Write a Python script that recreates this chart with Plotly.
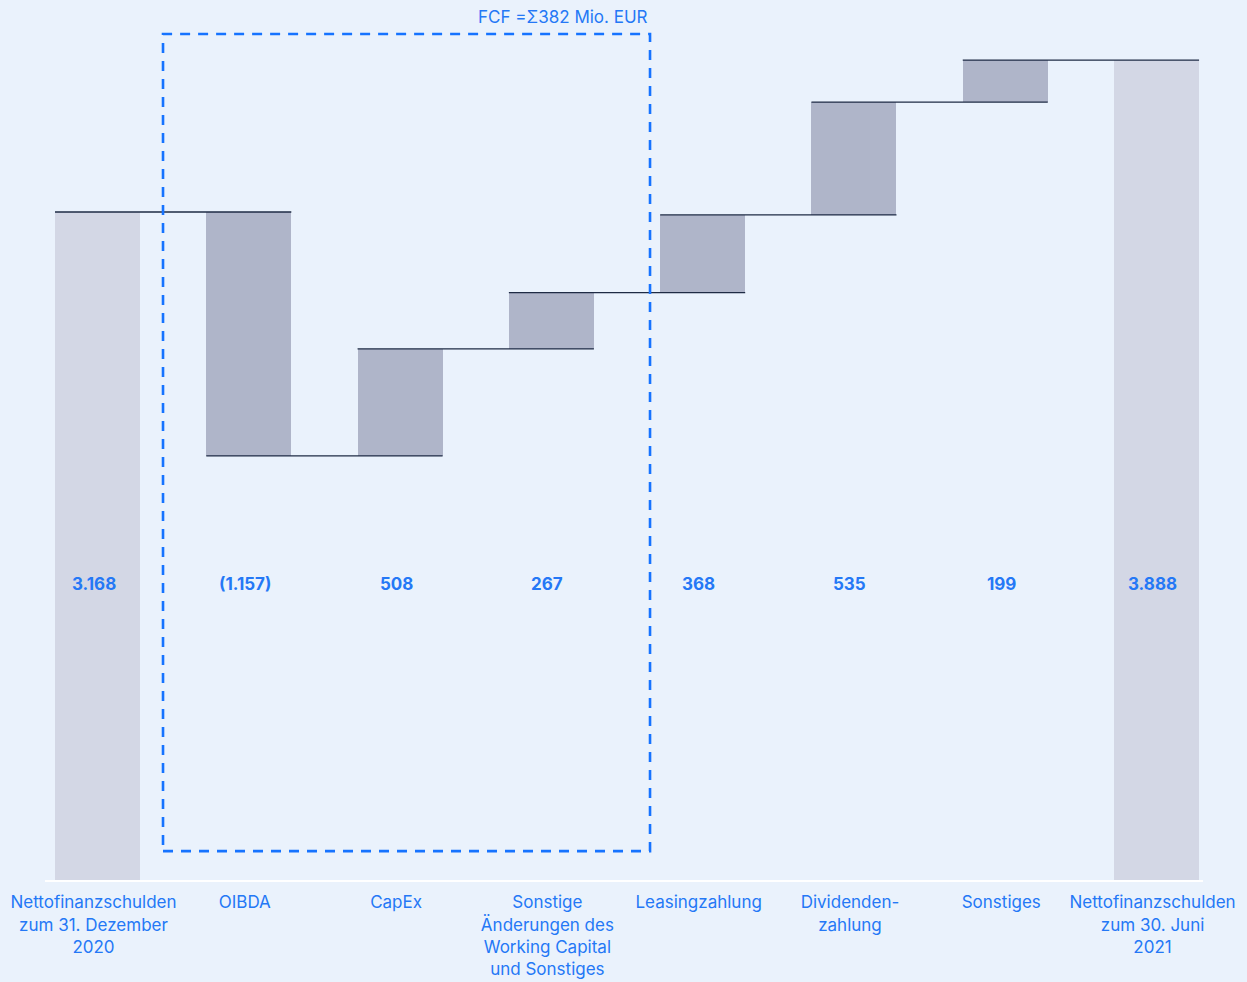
import plotly.graph_objects as go

categories = ["Nettofinanzschulden<br>zum 31. Dezember<br>2020", "OIBDA", "CapEx",
              "Sonstige<br>Änderungen des<br>Working Capital<br>und Sonstiges",
              "Leasingzahlung", "Dividenden-<br>zahlung", "Sonstiges",
              "Nettofinanzschulden<br>zum 30. Juni<br>2021"]
changes = [3168, -1157, 508, 267, 368, 535, 199, 3888]
kinds = ["total", "rel", "rel", "rel", "rel", "rel", "rel", "total"]
value_labels = ["3.168", "(1.157)", "508", "267", "368", "535", "199", "3.888"]
fcf_label = "FCF =Σ382 Mio. EUR"

BG = "#EAF2FC"
BLUE = "#2478F6"
TOTAL_C = "#D3D7E5"
DELTA_C = "#AFB5C9"
LINE_C = "#1E2B44"
W = 0.562

xs = list(range(len(categories)))
bases, heights, colors, levels = [], [], [], []
level = 0
for k, v in zip(kinds, changes):
    if k == "total":
        bases.append(0); heights.append(v); colors.append(TOTAL_C); level = v
    else:
        new = level + v
        bases.append(min(level, new)); heights.append(abs(v)); colors.append(DELTA_C); level = new
    levels.append(level)

fig = go.Figure()
fig.add_trace(go.Bar(x=xs, y=heights, base=bases, marker=dict(color=colors, line=dict(width=0)),
                     width=W, hoverinfo="skip"))

cx, cy = [], []
for i in range(len(xs) - 1):
    cx += [xs[i] - W / 2, xs[i + 1] + W / 2, None]
    cy += [levels[i], levels[i], None]
fig.add_trace(go.Scatter(x=cx, y=cy, mode="lines", line=dict(color=LINE_C, width=1.3), hoverinfo="skip"))

for x, t in zip(xs, value_labels):
    fig.add_annotation(x=x, y=0.336, xref="x", yref="paper", text="<b>" + t + "</b>", xshift=-4,
                       showarrow=False, font=dict(color=BLUE, size=17, family="Inter"))

rx0, rx1 = 0.433, 3.652
fig.add_shape(type="rect", x0=rx0, x1=rx1, y0=137, y1=4012, xref="x", yref="y",
              line=dict(color="#1673FF", width=2.6, dash="10px,8px"), fillcolor="rgba(0,0,0,0)")
fig.add_annotation(x=rx1, y=4095, xref="x", yref="y", xanchor="right", yanchor="middle",
                   text=fcf_label, showarrow=False, font=dict(color=BLUE, size=17, family="Inter"))

fig.update_layout(
    width=1247, height=982, margin=dict(l=45, r=44, t=0, b=102),
    paper_bgcolor=BG, plot_bgcolor=BG, showlegend=False, bargap=0,
    font=dict(family="Inter", color=BLUE, size=17),
    xaxis=dict(tickmode="array", tickvals=xs, ticktext=categories, range=[-0.347, 7.307],
               showgrid=False, zeroline=False, showline=True, linecolor="white", linewidth=2,
               ticks="", ticklabelstandoff=6, ticklabelshift=-4,
               tickfont=dict(size=17, color=BLUE, family="Inter")),
    yaxis=dict(range=[0, 4173.4], visible=False, showgrid=False),
)
fig.write_html("out.html")
